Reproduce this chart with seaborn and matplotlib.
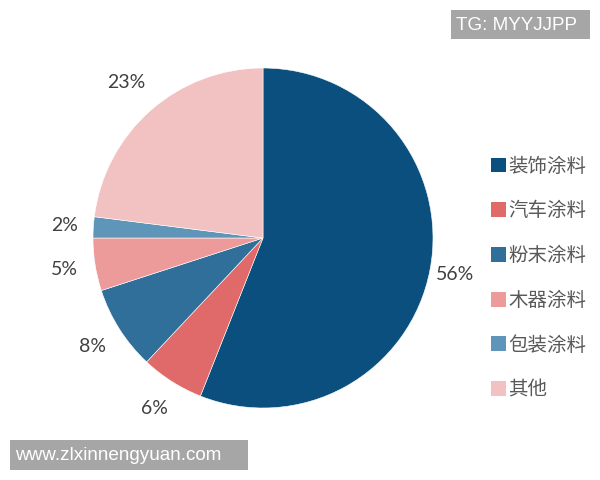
import matplotlib
matplotlib.use('Agg')
import matplotlib.pyplot as plt
import seaborn as sns
import numpy as np
from matplotlib.patches import Patch, Rectangle

sns.set_theme(style='white')
plt.rcParams['font.family'] = ['Noto Sans CJK SC', 'DejaVu Sans']

categories = ['装饰涂料', '汽车涂料', '粉末涂料', '木器涂料', '包装涂料', '其他']
shares = [56, 6, 8, 5, 2, 23]
colors = ['#0b4f7f', '#e06a6a', '#2f6f9a', '#ec9a9a', '#5e95b8', '#f2c1c1']
# radial position of each percent label (in pie radii)
label_r = [1.15, 1.19, 1.19, 1.18, 1.17, 1.22]

fig = plt.figure(figsize=(6, 4.8), dpi=100)
ax = fig.add_axes([93 / 600, 72 / 480, 340 / 600, 340 / 480])

wedges, _ = ax.pie(shares, colors=colors, startangle=90, counterclock=False,
                   radius=1, wedgeprops=dict(edgecolor='white', linewidth=0.4))
ax.set_xlim(-1, 1)
ax.set_ylim(-1, 1)
ax.set_aspect('equal')

# percent labels outside the wedges
for w, s, r in zip(wedges, shares, label_r):
    mid = np.deg2rad((w.theta1 + w.theta2) / 2)
    ax.text(r * np.cos(mid), r * np.sin(mid), f'{s}%', ha='center', va='center',
            fontsize=14, color='#404040', family=['Lato', 'DejaVu Sans'])

handles = [Patch(facecolor=c, edgecolor='none') for c in colors]
fig.legend(handles, categories, loc='upper left', bbox_to_anchor=(481 / 600, 1 - 146 / 480),
           frameon=False, fontsize=14, labelcolor='#595959', handlelength=0.8,
           handleheight=0.8, handletextpad=0.1, labelspacing=1.22, borderpad=0)

# watermark boxes
wm = ['TG: MYYJJPP', 'www.zlxinnengyuan.com']
fig.patches.append(Rectangle((451 / 600, 1 - 39 / 480), 139 / 600, 29 / 480,
                             transform=fig.transFigure, facecolor='#a6a6a6', edgecolor='none'))
fig.patches.append(Rectangle((10 / 600, 1 - 470 / 480), 238 / 600, 30 / 480,
                             transform=fig.transFigure, facecolor='#a6a6a6', edgecolor='none'))
fig.text(456 / 600, 1 - 25 / 480, wm[0], fontsize=13.6, color='white', va='center',
         ha='left', family=['Liberation Sans', 'DejaVu Sans'])
fig.text(15 / 600, 1 - 455 / 480, wm[1], fontsize=13.6, color='white',
         va='center', ha='left', family=['Liberation Sans', 'DejaVu Sans'])

fig.savefig('out.png', dpi=100)
